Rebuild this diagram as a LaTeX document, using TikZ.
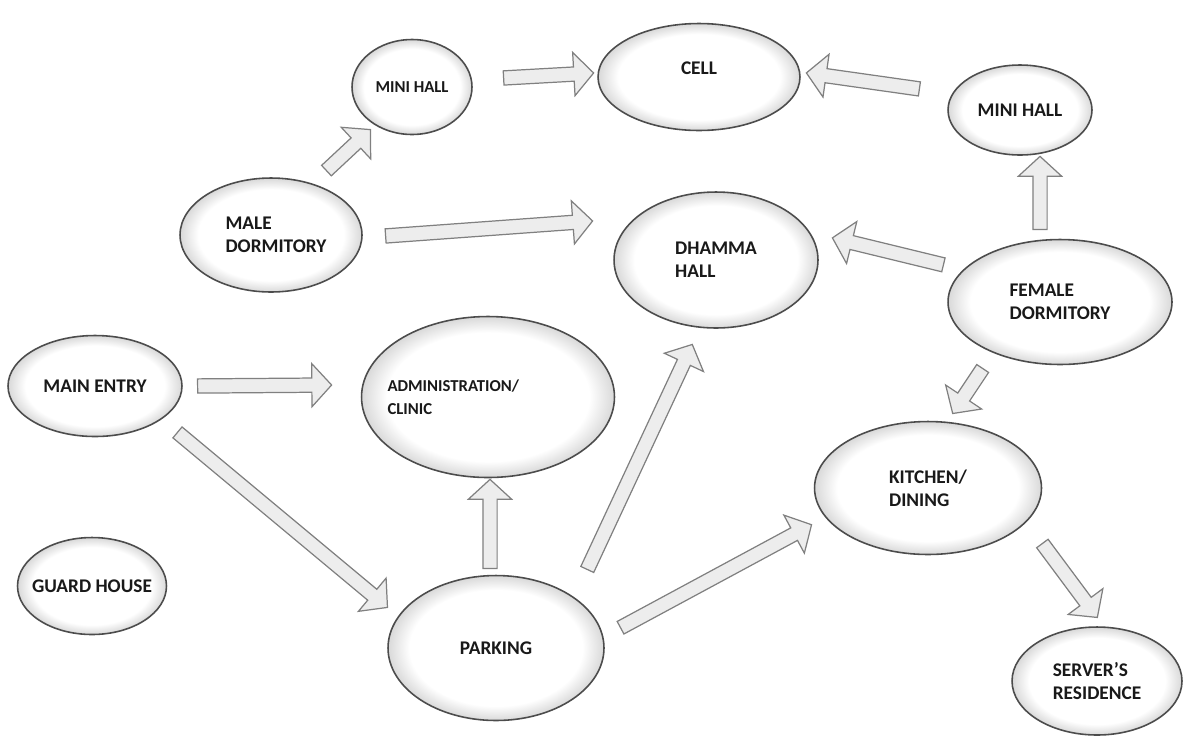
\documentclass[tikz,border=0pt]{standalone}
\usepackage{fontspec}
\setmainfont{Carlito}
\usepackage{tikz}
\usetikzlibrary{shapes.geometric, shapes.arrows, calc}

\pgfdeclareradialshading{hallglow}{\pgfpoint{0bp}{0bp}}{%
  color(0bp)=(white); color(20bp)=(white); color(25bp)=(black!15); color(50bp)=(black!15)}

% block arrow from tail point to tip point
\newcommand\blockarrow[2]{%
  \path let \p1=#1, \p2=#2, \n1={atan2(\y2-\y1,\x2-\x1)}, \n2={veclen(\x2-\x1,\y2-\y1)}
    in node[flow, minimum height=\n2, rotate=\n1, anchor=tail] at (\p1) {};}

\begin{document}
\begin{tikzpicture}[
  x=0.02cm, y=-0.02cm,
  hall/.style={ellipse, draw=black!70, line width=0.9pt, shading=hallglow,
    align=left, text=black!90, inner sep=2pt, size=11},
  size/.style={font=\fontsize{#1}{13}\selectfont\bfseries},
  flow/.style={single arrow, draw=black!50, fill=black!7, line width=0.7pt,
    inner xsep=0pt, inner ysep=0.13cm, single arrow head extend=0.29cm,
    single arrow tip angle=95}
]
\useasboundingbox (0,0) rectangle (1195,738);

% buildings
\node[hall, size=9.5, minimum width=2.4cm, minimum height=1.9cm] (minil) at (412,87) {MINI HALL};
\node[hall, minimum width=4.04cm, minimum height=2.14cm, text depth=0.35cm] (cell) at (699,77) {CELL};
\node[hall, minimum width=2.88cm, minimum height=1.8cm] (minir) at (1020,110) {MINI HALL};
\node[hall, minimum width=3.64cm, minimum height=2.28cm] (male) at (271,235) {\hspace*{0.2cm}MALE\\\hspace*{0.2cm}DORMITORY};
\node[hall, minimum width=4.08cm, minimum height=2.72cm, text depth=0pt] (dhamma) at (716,260) {DHAMMA\\HALL};
\node[hall, minimum width=4.48cm, minimum height=2.5cm] (female) at (1060,302) {FEMALE\\DORMITORY};
\node[hall, minimum width=3.48cm, minimum height=2.02cm] (entry) at (95,386) {MAIN ENTRY};
\node[hall, size=9.5, minimum width=5.06cm, minimum height=3.22cm, text width=3.1cm] (admin) at (488,397) {\hspace*{-0.46cm}ADMINISTRATION/\\\hspace*{-0.46cm}CLINIC};
\node[hall, minimum width=4.54cm, minimum height=2.66cm] (kitchen) at (928,488) {KITCHEN/\\DINING};
\node[hall, minimum width=2.98cm, minimum height=1.94cm, inner xsep=-0.15cm] (guard) at (92,586) {GUARD HOUSE};
\node[hall, minimum width=4.32cm, minimum height=2.9cm] (parking) at (496,648) {PARKING};
\node[hall, minimum width=3.4cm, minimum height=2.16cm] (server) at (1097,681) {SERVER'S\\RESIDENCE};

% routes
\blockarrow{($(minil)+(91,-9)$)}{($(cell)+(-106,-4)$)}
\blockarrow{($(male)+(55,-64)$)}{($(minil)+(-42,43)$)}
\blockarrow{($(minir)+(-100,-21)$)}{($(cell)+(108,-4)$)}
\blockarrow{($(male)+(114,1)$)}{($(dhamma)+(-124,-39)$)}
\blockarrow{($(female)+(-116,-37)$)}{($(dhamma)+(117,-22)$)}
\blockarrow{($(female)+(-20,-72)$)}{($(minir)+(20,47)$)}
\blockarrow{($(entry)+(102,0)$)}{($(admin)+(-157,-12)$)}
\blockarrow{($(entry)+(82,46)$)}{($(parking)+(-109,-41)$)}
\blockarrow{($(parking)+(-6,-79)$)}{($(admin)+(2,83)$)}
\blockarrow{($(parking)+(91,-78)$)}{($(dhamma)+(-24,85)$)}
\blockarrow{($(parking)+(124,-20)$)}{($(kitchen)+(-117,37)$)}
\blockarrow{($(female)+(-77,66)$)}{($(kitchen)+(25,-75)$)}
\blockarrow{($(kitchen)+(114,55)$)}{($(server)+(0,-64)$)}
\end{tikzpicture}
\end{document}
